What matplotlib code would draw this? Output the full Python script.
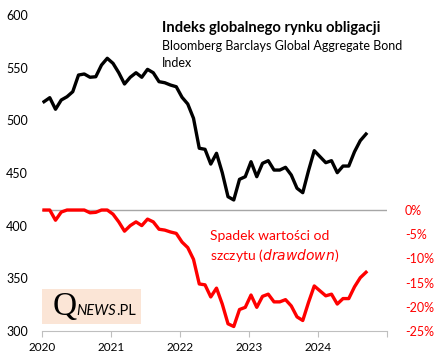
import numpy as np
import matplotlib
matplotlib.use("Agg")
import matplotlib.pyplot as plt
from matplotlib.patches import Rectangle
from matplotlib.ticker import FuncFormatter

# Bloomberg Barclays Global Aggregate Bond Index, monthly Jan 2020 - Sep 2024
index_values = [517.7, 521.5, 510.5, 519.3, 522.4, 527.2, 543.0, 544.0, 540.9, 541.4,
                552.5, 558.9, 554.1, 545.2, 534.5, 540.9, 545.2, 540.9, 548.4, 545.2,
                536.7, 535.7, 533.5, 531.9, 521.9, 515.5, 501.9, 473.5, 472.5, 458.5,
                468.7, 450.3, 427.5, 424.4, 444.0, 446.5, 460.7, 446.5, 459.2, 461.7,
                452.8, 452.8, 455.4, 448.1, 435.5, 431.3, 452.2, 471.2, 465.5, 459.8,
                461.7, 450.3, 456.6, 456.6, 470.2, 480.7, 487.0]
# drawdown from peak, in percent
drawdown = [0.0, 0.0, -2.11, -0.42, 0.0, 0.0, 0.0, 0.0, -0.57, -0.48,
            0.0, 0.0, -0.86, -2.45, -4.37, -3.22, -2.45, -3.22, -1.88, -2.45,
            -3.97, -4.15, -4.54, -4.83, -6.62, -7.77, -10.20, -15.28, -15.46, -17.96,
            -16.14, -19.43, -23.51, -24.07, -20.56, -20.11, -17.57, -20.11, -17.84, -17.39,
            -18.98, -18.98, -18.52, -19.82, -22.08, -22.83, -19.09, -15.69, -16.71, -17.73,
            -17.39, -19.43, -18.30, -18.30, -15.87, -13.99, -12.86]
years = [2020, 2021, 2022, 2023, 2024]
left_ticks = [300, 350, 400, 450, 500, 550, 600]
right_ticks = [-25, -20, -15, -10, -5, 0]

months = np.arange(len(index_values))
x = 2020 + (months + 0.35) / 12.0

plt.rcParams['font.family'] = ['Lato', 'DejaVu Sans']

fig = plt.figure(figsize=(4.36, 3.62), dpi=100)
ax = fig.add_axes([42 / 436, 31 / 362, 345 / 436, 316 / 362])
ax2 = ax.twinx()

ax.plot(x, index_values, color='black', lw=2.4, solid_joinstyle='round', zorder=3)
ax2.plot(x, np.array(drawdown) / 100, color='#ff0000', lw=2.4, solid_joinstyle='round', zorder=3)
ax2.axhline(0, color='#a6a6a6', lw=1, zorder=1)

ax.set_xlim(2020, 2025)
ax.set_ylim(300, 600)
ax2.set_ylim(-0.25, 0.403)

ax.set_xticks(years + [2025])
ax.set_xticklabels([str(y) for y in years] + [''])
ax.set_yticks(left_ticks)
ax2.set_yticks([t / 100 for t in right_ticks])
ax2.yaxis.set_major_formatter(FuncFormatter(lambda v, p: '{:.0f}%'.format(v * 100)))

for a in (ax, ax2):
    for s in ['top', 'left', 'right']:
        a.spines[s].set_visible(False)
ax2.spines['bottom'].set_visible(False)
ax.spines['bottom'].set_color('#bfbfbf')

ax.tick_params(axis='x', length=4, color='#bfbfbf', labelsize=8.5, pad=4)
ax.tick_params(axis='y', length=0, labelsize=9, pad=10)
ax2.tick_params(axis='y', length=0, labelsize=9, pad=13, labelcolor='#ff0000')

fig.text(162 / 436, 1 - 28 / 362, 'Indeks globalnego rynku obligacji', fontsize=10.6,
         fontweight='bold', va='center', ha='left')
fig.text(162 / 436, 1 - 46 / 362, 'Bloomberg Barclays Global Aggregate Bond', fontsize=9,
         va='center', ha='left')
fig.text(162 / 436, 1 - 63 / 362, 'Index', fontsize=9, va='center', ha='left')

fig.text(210 / 436, 1 - 236 / 362, 'Spadek wartości od', fontsize=10, color='#ff0000',
         va='center', ha='left')
fig.text(210 / 436, 1 - 255 / 362, 'szczytu ($\\it{drawdown}$)', fontsize=10, color='#ff0000',
         va='center', ha='left')

# logo
fig.patches.append(Rectangle((42 / 436, 1 - 324 / 362), 99 / 436, 35 / 362,
                             transform=fig.transFigure, facecolor='#fbe5d6',
                             edgecolor='none', zorder=0))
fig.text(53 / 436, 1 - 315 / 362, 'Q', fontsize=24, family='Liberation Serif',
         va='baseline', ha='left')
news = fig.text(76 / 436, 1 - 315 / 362, 'NEWS', fontsize=10.5, style='italic',
                va='baseline', ha='left')
fig.canvas.draw()
bb = news.get_window_extent().transformed(fig.transFigure.inverted())
fig.text(bb.x1 + 1 / 436, 1 - 315 / 362, '.PL', fontsize=10.5,
         va='baseline', ha='left')

fig.savefig('out.png', dpi=100)
